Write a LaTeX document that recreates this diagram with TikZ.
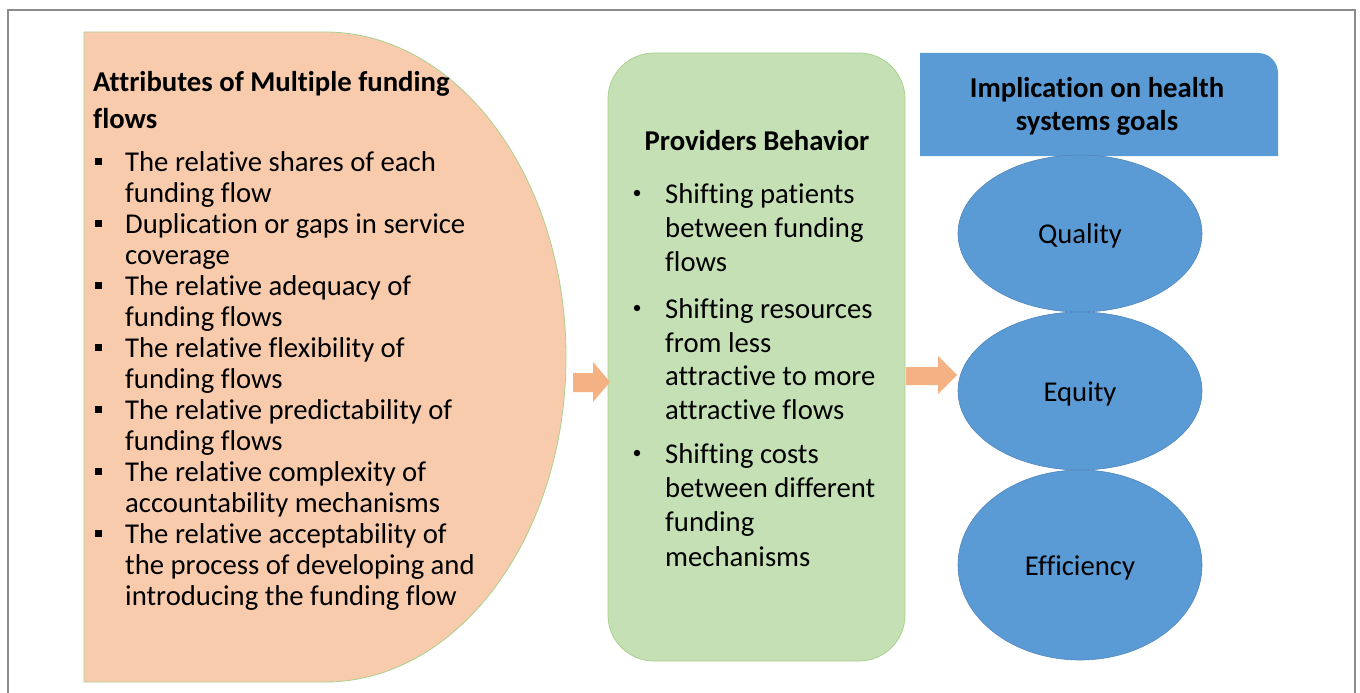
\documentclass[tikz,border=0pt]{standalone}
\usepackage{fontspec}
\setmainfont{Carlito}[Ligatures=NoCommon]
\definecolor{peach}{HTML}{F8CBAD}
\definecolor{lgreen}{HTML}{C5E0B4}
\definecolor{bgreen}{HTML}{A9D18E}
\definecolor{mblue}{HTML}{5B9BD5}
\definecolor{dblue}{HTML}{4F86BD}
\definecolor{arr}{HTML}{F4B183}
\definecolor{frame}{HTML}{8C8C8C}
\tikzset{
  txt/.style={anchor=base west, inner sep=0pt, font=\fontsize{28.7}{34}\selectfont},
  ctxt/.style={anchor=base, inner sep=0pt, font=\fontsize{28.7}{34}\selectfont},
  btxt/.style={anchor=base west, inner sep=0pt, font=\fontsize{28.7}{34}\selectfont\bfseries},
  cbtxt/.style={anchor=base, inner sep=0pt, font=\fontsize{28.7}{34}\selectfont\bfseries},
  goal/.style={ellipse, fill=mblue, draw=dblue, line width=0.6pt, inner sep=0pt, minimum width=244pt},
  blockarrow/.style={fill=arr, draw=none},
}
\usetikzlibrary{shapes.geometric}
\begin{document}
\begin{tikzpicture}[x=1pt,y=-1pt]
\useasboundingbox (0,0) rectangle (1360,693);
% outer frame
\draw[frame, line width=1.5pt] (8,720) -- (8,10) -- (1355,10) -- (1355,720);
% left D shape
\draw[fill=peach, draw=bgreen, line width=0.8pt] (84,32) -- (325,32)
  arc[start angle=90, end angle=-90, x radius=241pt, y radius=325pt] -- (84,682) -- cycle;
% middle rounded box
\node[draw=bgreen, fill=lgreen, line width=0.8pt, rectangle, rounded corners=46pt,
  minimum width=297pt, minimum height=608pt, inner sep=0pt] (pb) at (756.5,357) {};
% header
\fill[mblue] (920,156) -- (920,53) -- (1258,53) arc[start angle=90, end angle=0, radius=20pt] -- (1278,156) -- cycle;
% goals
\node[goal, minimum height=157pt] (q) at (1080,233.5) {};
\node[goal, minimum height=158pt] (eq) at (1080,391) {};
\node[goal, minimum height=190pt] (ef) at (1080,565) {};
\node[ctxt] (qt) at (1080,243) {Quality};
\node[ctxt] (eqt) at (1080,401) {Equity};
\node[ctxt] (eft) at (1080,575) {Efficiency};
% arrows
\fill[blockarrow] (573,373) -- (593,373) -- (593,362) -- (610,382) -- (593,402) -- (593,392) -- (573,392) -- cycle;
\fill[blockarrow] (906,367) -- (938,367) -- (938,356) -- (957,375) -- (938,394) -- (938,385) -- (906,385) -- cycle;
% left text
\node[btxt] (t1) at (93,92) {Attributes of Multiple funding};
\node[btxt] (t2) at (93,128) {flows};
\foreach \t/\y [count=\i] in {The relative shares of each/171, funding flow/202,
  Duplication or gaps in service/233, coverage/264,
  The relative adequacy of/295, funding flows/326,
  The relative flexibility of/357, funding flows/388,
  The relative predictability of/419, funding flows/450,
  The relative complexity of/481, accountability mechanisms/512,
  The relative acceptability of/543, the process of developing and/574,
  introducing the funding flow/605}
  \node[txt] (L\i) at (125,\y) {\t};
\foreach \y in {171,233,295,357,419,481,543}
  \fill (95,\y-13) rectangle (102,\y-6);
% middle text
\node[cbtxt] (pt) at (757,150) {Providers Behavior};
\foreach \t/\y [count=\i] in {Shifting patients/203, between funding/237, flows/271,
  Shifting resources/318, from less/352, attractive to more/385, attractive flows/419,
  Shifting costs/463, between different/497, funding/531, mechanisms/566}
  \node[txt] (M\i) at (665,\y) {\t};
\foreach \y in {203,318,463}
  \fill (637,\y-10) circle[radius=3.2pt];
% header text
\node[cbtxt] (h1) at (1097,97) {Implication on health};
\node[cbtxt] (h2) at (1097,130) {systems goals};
\end{tikzpicture}
\end{document}
